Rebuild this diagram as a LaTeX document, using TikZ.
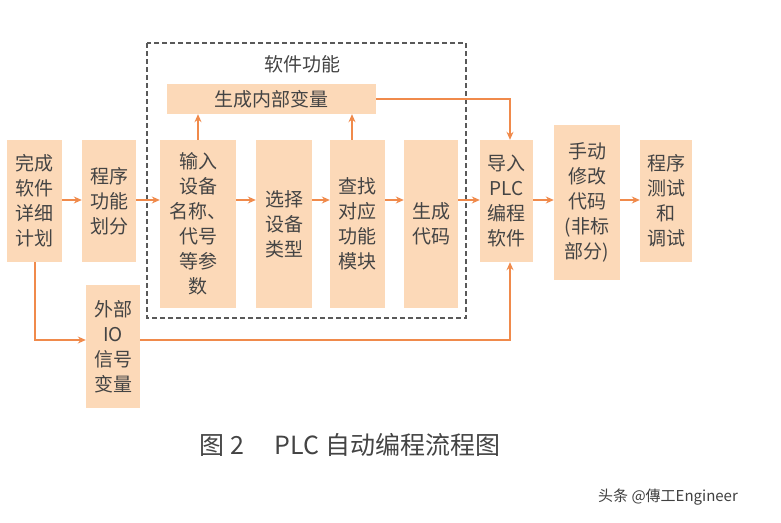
\documentclass[tikz,border=0pt]{standalone}
\usepackage{fontspec}
\setmainfont{Noto Sans CJK SC}
\usetikzlibrary{arrows.meta}
\definecolor{boxfill}{HTML}{FCD9B8}
\definecolor{arr}{HTML}{F08A4B}
\definecolor{txt}{HTML}{444444}
\begin{document}
\begin{tikzpicture}[x=1pt,y=-1pt,
  bx/.style={fill=boxfill,text=txt,font=\fontsize{19}{25}\selectfont,align=center,inner sep=0pt},
  ar/.style={draw=arr,line width=1.2pt,-{Stealth[length=8pt,width=7pt]}}]
\useasboundingbox[fill=white] (0,0) rectangle (781,522);
\newcommand\bx[6]{\node[bx,minimum width={#4-#2},minimum height={#5-#3}] (#1) at ({(#2+#4)/2},{(#3+#5)/2}) {#6};}
\draw[dash pattern=on 5pt off 3pt,line width=1.5pt,black!65] (147,43) rectangle (466,318);
\node[text=txt,font=\fontsize{19}{22}\selectfont] (sw) at (302,64) {软件功能};
\bx{A}{7}{140}{62}{262}{完成\\软件\\详细\\计划}
\bx{B}{82}{140}{136}{262}{程序\\功能\\划分}
\bx{V}{167}{84}{376}{114}{生成内部变量}
\bx{C}{160}{140}{236}{308}{输入\\设备\\名称、\\代号\\等参\\数}
\bx{D}{256}{140}{312}{308}{选择\\设备\\类型}
\bx{E}{330}{140}{385}{308}{查找\\对应\\功能\\模块}
\bx{F}{404}{140}{458}{308}{生成\\代码}
\bx{G}{480}{140}{533}{262}{导入\\PLC\\编程\\软件}
\bx{H}{554}{125}{620}{280}{手动\\修改\\代码\\(非标\\部分)}
\bx{I}{640}{140}{692}{262}{程序\\测试\\和\\调试}
\bx{J}{86}{285}{140}{408}{外部\\IO\\信号\\变量}
\draw[ar] (A.east|-0,200) -- (B.west|-0,200);
\draw[ar] (B.east|-0,200) -- (C.west|-0,200);
\draw[ar] (C.east|-0,200) -- (D.west|-0,200);
\draw[ar] (D.east|-0,200) -- (E.west|-0,200);
\draw[ar] (E.east|-0,200) -- (F.west|-0,200);
\draw[ar] (F.east|-0,200) -- (G.west|-0,200);
\draw[ar] (G.east|-0,200) -- (H.west|-0,200);
\draw[ar] (H.east|-0,200) -- (I.west|-0,200);
\draw[ar] (C.north-|198,0) -- (V.south-|198,0);
\draw[ar] (E.north-|352,0) -- (V.south-|352,0);
\draw[ar] (V.east) -| (G.north-|510,0);
\draw[ar] (A.south-|35,0) |- (J.west|-0,340);
\draw[ar] (J.east|-0,340) -| (G.south-|510,0);
\node[text=txt,font=\fontsize{25}{28}\selectfont] (cap) at (350,445) {图 2\quad\ PLC 自动编程流程图};
\node[text=black!75,font=\fontsize{15}{17}\selectfont] (wm) at (668,497) {头条 @傳工Engineer};
\end{tikzpicture}
\end{document}
